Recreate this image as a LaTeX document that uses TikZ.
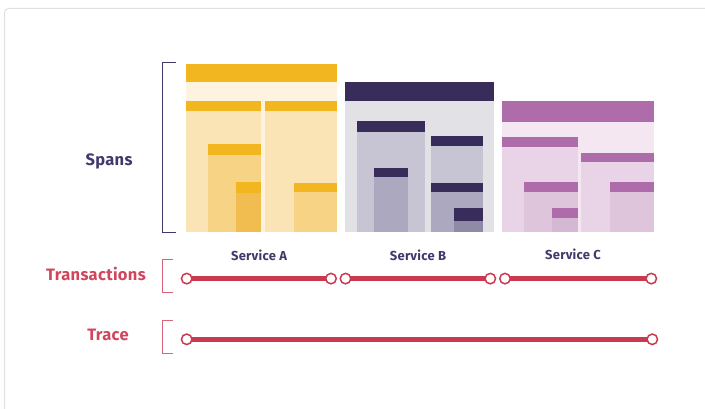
\documentclass[tikz,border=0pt]{standalone}
\usepackage{fontspec}
\newfontfamily\labfont{Fira Sans}[LetterSpace=2]
\usetikzlibrary{backgrounds}
\definecolor{ya}{HTML}{F2B620}
\definecolor{ya0}{HTML}{FDF3DE}
\definecolor{ya1}{HTML}{FAE3B5}
\definecolor{ya2}{HTML}{F7D385}
\definecolor{ya3}{HTML}{F1BD51}
\definecolor{pb}{HTML}{382D5A}
\definecolor{pb0}{HTML}{E2E1E6}
\definecolor{pb1}{HTML}{C7C4D3}
\definecolor{pb2}{HTML}{ABA8BF}
\definecolor{pb3}{HTML}{8F8BA7}
\definecolor{mc}{HTML}{AE6DAA}
\definecolor{mc0}{HTML}{F4E7F2}
\definecolor{mc1}{HTML}{E8D4E6}
\definecolor{mc2}{HTML}{DEC5DC}
\definecolor{mc3}{HTML}{D5B8D3}
\definecolor{ink}{HTML}{3F3A6B}
\definecolor{redline}{HTML}{C9394F}
\definecolor{redtext}{HTML}{D0475D}
\definecolor{redbracket}{HTML}{D66577}
\definecolor{framegray}{HTML}{E0E0E4}
\tikzset{
  framebox/.style={draw=framegray, line width=1pt, rounded corners=4pt},
  bracketline/.style={line width=1.5pt},
  servlabel/.style={text=ink, font=\labfont\bfseries\fontsize{13}{14}\selectfont, inner sep=0pt},
  rowlabel/.style={font=\labfont\bfseries\fontsize{16.5}{17}\selectfont, inner sep=0pt},
  dot/.style={circle, draw=redline, fill=white, line width=1.5pt, minimum size=10.5pt, inner sep=0pt},
  redbar/.style={draw=redline, line width=5pt},
}
% \spanbox{x1}{y1}{x2}{y2}{header bottom}{header colour}{body colour}
\newcommand{\spanbox}[7]{%
  \fill[#7] (#1,#5) rectangle (#3,#4);
  \fill[#6] (#1,#2) rectangle (#3,#5);
}
\begin{document}
\begin{tikzpicture}[x=1pt,y=-1pt]
\useasboundingbox (0,0) rectangle (705,409);
\draw[framebox] (4.5,8.5) rectangle (730,440);

% Service A
\spanbox{185.7}{64}{337.3}{232.3}{82}{ya}{ya0}
\spanbox{185.7}{101}{260.7}{232.3}{110.7}{ya}{ya1}
\spanbox{265}{101}{337.3}{232.3}{110.7}{ya}{ya1}
\spanbox{207.7}{144}{260.7}{232.3}{155.3}{ya}{ya2}
\spanbox{235.7}{182}{260.7}{232.3}{193.3}{ya}{ya3}
\spanbox{294}{182.7}{337.3}{232.3}{192}{ya}{ya2}

% Service B
\spanbox{345.3}{82}{494}{232.3}{100.7}{pb}{pb0}
\spanbox{356.7}{121.3}{424.7}{232.3}{131.7}{pb}{pb1}
\spanbox{374.3}{167.7}{408}{232.3}{176.7}{pb}{pb2}
\spanbox{431.3}{135.7}{483}{232.3}{146}{pb}{pb1}
\spanbox{431.3}{183.3}{483}{232.3}{192}{pb}{pb2}
\spanbox{454.3}{208}{483}{232.3}{221}{pb}{pb3}

% Service C
\spanbox{501.7}{101}{653.7}{232.3}{121.7}{mc}{mc0}
\spanbox{501.7}{137.3}{577.7}{232.3}{146.7}{mc}{mc1}
\spanbox{524.3}{181.7}{577.7}{232.3}{192.3}{mc}{mc2}
\spanbox{551.7}{207.7}{577.7}{232.3}{217.7}{mc}{mc3}
\spanbox{581}{152.7}{653.7}{232.3}{162.3}{mc}{mc1}
\spanbox{610}{182.3}{653.7}{232.3}{192.3}{mc}{mc2}

% brackets
\draw[bracketline, draw=ink] (175.7,62.7) -- (162.5,62.7) -- (162.5,232.7) -- (175.7,232.7);
\draw[bracketline, draw=redbracket] (172.7,259.5) -- (162.5,259.5) -- (162.5,292.3) -- (172.7,292.3);
\draw[bracketline, draw=redbracket] (172.7,320.3) -- (162.5,320.3) -- (162.5,353.3) -- (172.7,353.3);

% labels
\node[rowlabel, text=ink] (spans) at (109,161) {Spans};
\node[rowlabel, text=redtext] (trans) at (96,274) {Transactions};
\node[rowlabel, text=redtext] (trace) at (108,335) {Trace};
\node[servlabel] (sa) at (259,255) {Service A};
\node[servlabel] (sb) at (418,255) {Service B};
\node[servlabel] (sc) at (573,254.5) {Service C};

% transactions
\node[dot] (a1) at (186.7,278.6) {};
\node[dot] (a2) at (331,278.6) {};
\node[dot] (b1) at (345.5,278.6) {};
\node[dot] (b2) at (490.3,278.6) {};
\node[dot] (c1) at (505,278.6) {};
\node[dot] (c2) at (651.3,278.6) {};
\node[dot] (t1) at (186.7,339.3) {};
\node[dot] (t2) at (652.3,339.3) {};
\begin{scope}[on background layer]
\draw[redbar] (a1.center) -- (a2.center);
\draw[redbar] (b1.center) -- (b2.center);
\draw[redbar] (c1.center) -- (c2.center);
\draw[redbar] (t1.center) -- (t2.center);
\end{scope}
\end{tikzpicture}
\end{document}
